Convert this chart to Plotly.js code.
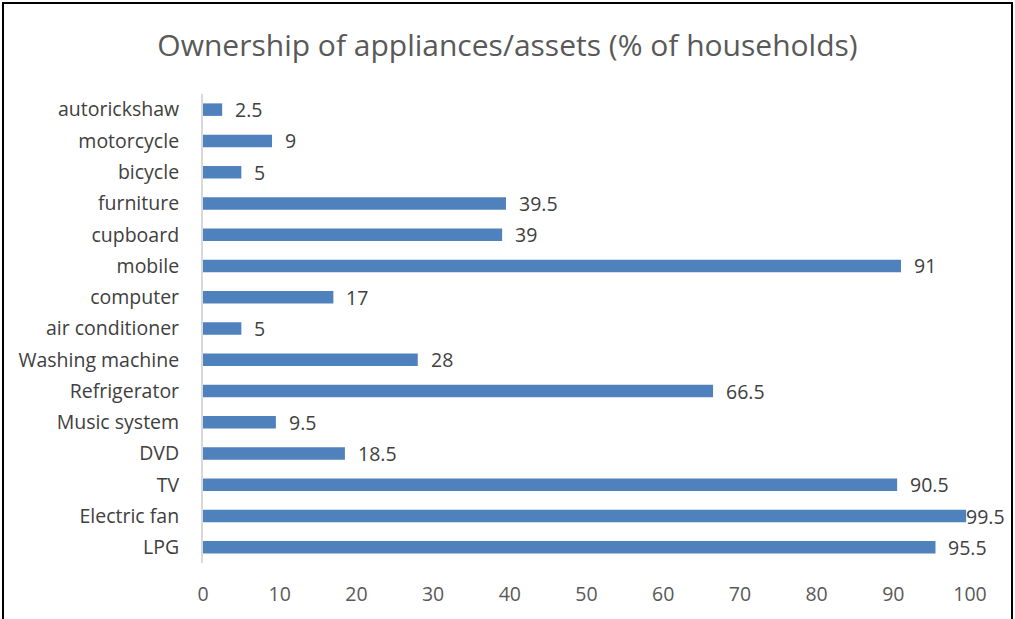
<!DOCTYPE html>
<html>
<head>
<meta charset="utf-8">
<script src="https://cdn.plot.ly/plotly-3.0.1.min.js"></script>
<style>
html, body { margin: 0; padding: 0; background: #fff; overflow: hidden; }
#frame { position: absolute; left: 2px; top: 2px; width: 1011px; height: 660px; border: 2px solid #000; box-sizing: border-box; }
#chart { position: absolute; left: 0; top: 0; width: 1015px; height: 619px; }
</style>
</head>
<body>
<div id="chart"></div>
<div id="frame"></div>
<script>
const categories = ["LPG", "Electric fan", "TV", "DVD", "Music system", "Refrigerator", "Washing machine", "air conditioner", "computer", "mobile", "cupboard", "furniture", "bicycle", "motorcycle", "autorickshaw"];
const values = [95.5, 99.5, 90.5, 18.5, 9.5, 66.5, 28, 5, 17, 91, 39, 39.5, 5, 9, 2.5];
const valueLabels = ["95.5", "99.5", "90.5", "18.5", "9.5", "66.5", "28", "5", "17", "91", "39", "39.5", "5", "9", "2.5"];
const tickValues = [0, 10, 20, 30, 40, 50, 60, 70, 80, 90, 100];

const font = "Open Sans, Liberation Sans, sans-serif";
const annotations = categories.map((c, i) => ({
  x: values[i], y: c, xref: 'x', yref: 'y',
  text: valueLabels[i], showarrow: false,
  xanchor: 'left', yanchor: 'middle',
  xshift: values[i] > 99 ? -2 : 11,
  font: { family: font, size: 19.5, color: '#404040' }
}));

Plotly.newPlot('chart', [{
  type: 'bar', orientation: 'h',
  x: values, y: categories,
  marker: { color: '#4F81BD', line: { color: '#4F81BD', width: 0 } },
  hoverinfo: 'none'
}], {
  width: 1015, height: 619,
  margin: { l: 203, r: 45, t: 94, b: 56 },
  paper_bgcolor: '#fff', plot_bgcolor: '#fff',
  bargap: 0.6,
  showlegend: false,
  title: { text: 'Ownership of appliances/assets (% of households)', x: 0.5, xanchor: 'center', y: 0.927, yanchor: 'middle',
           font: { family: font, size: 30, color: '#595959' } },
  xaxis: { range: [0, 100], tickvals: tickValues, showgrid: false, zeroline: false, showline: false,
           ticks: 'outside', ticklen: 14, tickcolor: 'rgba(0,0,0,0)',
           tickfont: { family: font, size: 19.5, color: '#595959' }, fixedrange: true },
  yaxis: { type: 'category', categoryorder: 'array', categoryarray: categories, showgrid: false, zeroline: false,
           showline: true, linecolor: '#D9D9D9', linewidth: 2,
           ticks: 'outside', ticklen: 18, tickcolor: 'rgba(0,0,0,0)',
           tickfont: { family: font, size: 19.5, color: '#404040' }, fixedrange: true },
  annotations: annotations
}, { staticPlot: true });
</script>
</body>
</html>
